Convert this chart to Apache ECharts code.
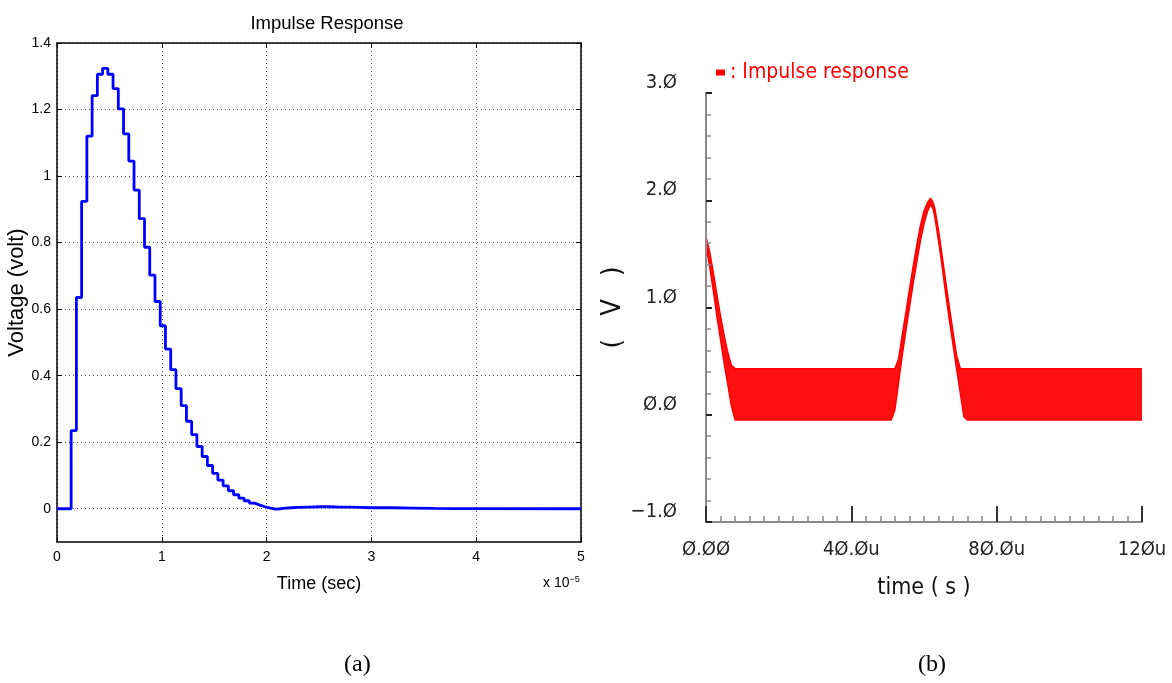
<!DOCTYPE html>
<html>
<head>
<meta charset="utf-8">
<title>Impulse Response</title>
<script src="https://cdn.jsdelivr.net/npm/echarts@6/dist/echarts.min.js"></script>
<style>
  html, body { margin: 0; padding: 0; background: #fff; }
  #main { width: 1172px; height: 683px; }
</style>
</head>
<body>
<div id="main"></div>
<script>
// (a) stairs response, time in units of 1e-5 s
var timeA = [0, 0.135, 0.185, 0.235, 0.285, 0.335, 0.385, 0.435, 0.485, 0.535, 0.585,
  0.635, 0.685, 0.735, 0.785, 0.835, 0.885, 0.935, 0.985, 1.035, 1.085,
  1.135, 1.185, 1.235, 1.285, 1.335, 1.385, 1.435, 1.485, 1.535, 1.585,
  1.635, 1.685, 1.735, 1.785, 1.835, 1.885, 1.935, 1.985, 2.035, 2.085,
  2.135, 2.185, 2.235, 2.3, 2.4, 2.5, 2.6, 2.7, 2.8, 2.9,
  3.0, 3.2, 3.4, 3.6, 3.8, 5.0];
var voltA = [0, 0.235, 0.635, 0.924, 1.12, 1.242, 1.306, 1.324, 1.306, 1.263, 1.202,
  1.127, 1.045, 0.958, 0.872, 0.786, 0.702, 0.623, 0.55, 0.48, 0.418,
  0.361, 0.31, 0.263, 0.223, 0.187, 0.157, 0.13, 0.106, 0.086, 0.069,
  0.054, 0.042, 0.032, 0.024, 0.017, 0.011, 0.006, 0.002, -0.001, 0.0,
  0.002, 0.003, 0.004, 0.005, 0.006, 0.006, 0.005, 0.005, 0.004, 0.003,
  0.003, 0.002, 0.001, 0.0005, 0, 0];
var xTicksA = [0, 1, 2, 3, 4, 5];
var yTicksA = [0, 0.2, 0.4, 0.6, 0.8, 1, 1.2, 1.4];

// (b) simulator output: lower / upper edge of the ripple band, time in us
var timeB = [0, 1, 2, 3, 4, 5, 6, 7, 8, 9,
  51, 52, 53, 54, 55, 56, 57, 58, 59, 60, 61, 61.8, 62.5, 63, 64, 65,
  66, 67, 68, 69, 70, 71, 72, 120];
var lowerB = [1.58, 1.38, 1.16, 0.92, 0.70, 0.48, 0.28, 0.08, -0.05, -0.05,
  -0.05, 0.05, 0.30, 0.55, 0.78, 1.00, 1.22, 1.42, 1.62, 1.78, 1.90, 1.96, 1.92, 1.84, 1.62, 1.38,
  1.12, 0.88, 0.65, 0.42, 0.20, -0.02, -0.05, -0.05];
var upperB = [1.66, 1.52, 1.33, 1.12, 0.92, 0.74, 0.58, 0.46, 0.43, 0.43,
  0.43, 0.43, 0.52, 0.74, 0.95, 1.17, 1.38, 1.58, 1.76, 1.90, 1.98, 2.02, 1.98, 1.92, 1.72, 1.48,
  1.24, 1.00, 0.77, 0.55, 0.43, 0.43, 0.43, 0.43];
var xTickValsB = [0, 40, 80, 120];
var xTickTextB = ['Ø.ØØ', '4Ø.Øu', '8Ø.Øu', '12Øu'];
var yTickValsB = [-1, 0, 1, 2, 3];
var yTickTextB = ['−1.Ø', 'Ø.Ø', '1.Ø', '2.Ø', '3.Ø'];

var narrow = "'Liberation Sans Narrow', 'DejaVu Sans Condensed', 'Liberation Sans', sans-serif";
var sans = "'Liberation Sans', Arial, sans-serif";
var serif = '"Liberation Serif", "Times New Roman", serif';

var stairData = timeA.map(function (t, i) { return [t, voltA[i]]; });
var upData = timeB.map(function (t, i) { return [t, upperB[i]]; });
var lowData = timeB.map(function (t, i) { return [t, lowerB[i]]; });

var dotted = { color: '#555', width: 1, type: [1, 3] };

var myChart = echarts.init(document.getElementById('main'), null, { renderer: 'canvas' });
myChart.setOption({
  animation: false,
  backgroundColor: '#fff',
  title: {
    text: 'Impulse Response',
    left: 322,
    top: 9,
    textAlign: 'center',
    textStyle: { fontFamily: sans, fontSize: 18.5, fontWeight: 'normal', color: '#000' }
  },
  legend: {
    data: ['Impulse response'],
    left: 711,
    top: 57,
    icon: 'rect',
    itemWidth: 9,
    itemHeight: 6,
    formatter: function (name) { return ': ' + name; },
    textStyle: { fontFamily: narrow, fontSize: 21, color: '#ff0000' }
  },
  grid: [
    { left: 57, top: 43, width: 524, height: 499 },
    { left: 706, top: 93, width: 436, height: 429 }
  ],
  xAxis: [
    {
      gridIndex: 0, type: 'value', min: 0, max: 5,
      name: 'Time (sec)', nameLocation: 'middle', nameGap: 33,
      nameTextStyle: { fontFamily: sans, fontSize: 18, color: '#000' },
      axisLine: { onZero: false, lineStyle: { color: '#000', width: 1.5 } },
      axisTick: { inside: true, length: 5, lineStyle: { color: '#000' }, customValues: xTicksA },
      axisLabel: { customValues: xTicksA, margin: 8, fontFamily: sans, fontSize: 14, color: '#000' },
      splitLine: { show: true, lineStyle: dotted }
    },
    {
      gridIndex: 0, type: 'value', min: 0, max: 5, position: 'top',
      axisLine: { onZero: false, lineStyle: { color: '#000', width: 1.5 } },
      axisTick: { inside: true, length: 5, lineStyle: { color: '#000' }, customValues: xTicksA },
      axisLabel: { show: false },
      splitLine: { show: false }
    },
    {
      gridIndex: 1, type: 'value', min: 0, max: 120, interval: 40, z: 5,
      name: 'time ( s )', nameLocation: 'middle', nameGap: 55,
      nameTextStyle: { fontFamily: narrow, fontSize: 23, color: '#111' },
      axisLine: { onZero: false, lineStyle: { color: '#8a8a8a', width: 2 } },
      axisTick: { inside: true, length: 16, lineStyle: { color: '#333', width: 2 } },
      minorTick: { show: true, splitNumber: 10, length: 6, lineStyle: { color: '#8a8a8a', width: 1.5 } },
      axisLabel: {
        margin: 18, fontFamily: narrow, fontSize: 20, color: '#222',
        formatter: function (v) {
          var i = xTickValsB.indexOf(v);
          return i >= 0 ? xTickTextB[i] : '';
        }
      },
      splitLine: { show: false }
    }
  ],
  yAxis: [
    {
      gridIndex: 0, type: 'value', min: -0.1, max: 1.4,
      name: 'Voltage (volt)', nameLocation: 'middle', nameGap: 27,
      nameTextStyle: { fontFamily: sans, fontSize: 22, color: '#000' },
      axisLine: { onZero: false, lineStyle: { color: '#000', width: 1.5 } },
      axisTick: { inside: true, length: 5, lineStyle: { color: '#000' }, customValues: yTicksA },
      axisLabel: { customValues: yTicksA, margin: 6, fontFamily: sans, fontSize: 14, color: '#000' },
      splitLine: { show: true, lineStyle: dotted }
    },
    {
      gridIndex: 0, type: 'value', min: -0.1, max: 1.4, position: 'right',
      axisLine: { show: true, onZero: false, lineStyle: { color: '#000', width: 1.5 } },
      axisTick: { show: true, inside: true, length: 5, lineStyle: { color: '#000' }, customValues: yTicksA },
      axisLabel: { show: false },
      splitLine: { show: false }
    },
    {
      gridIndex: 1, type: 'value', min: -1, max: 3, interval: 1, z: 5,
      name: '(   V   )', nameLocation: 'middle', nameGap: 62,
      nameTextStyle: { fontFamily: narrow, fontSize: 27, color: '#111' },
      axisLine: { show: true, onZero: false, lineStyle: { color: '#8a8a8a', width: 2 } },
      axisTick: { show: true, inside: true, length: 6, lineStyle: { color: '#222', width: 2 } },
      minorTick: { show: true, splitNumber: 5, length: 5, lineStyle: { color: '#8a8a8a', width: 1.5 } },
      axisLabel: {
        margin: 29, fontFamily: narrow, fontSize: 20, color: '#222', verticalAlign: 'bottom',
        formatter: function (v) {
          var i = yTickValsB.indexOf(v);
          return i >= 0 ? yTickTextB[i] : '';
        }
      },
      splitLine: { show: false }
    }
  ],
  series: [
    {
      name: 'stairs',
      type: 'line',
      xAxisIndex: 0, yAxisIndex: 0,
      step: 'end',
      showSymbol: false,
      data: stairData,
      lineStyle: { color: '#0000ff', width: 2.8 },
      itemStyle: { color: '#0000ff' }
    },
    {
      // upper edge, red fill down to the bottom of the axis
      name: 'Impulse response',
      type: 'line',
      xAxisIndex: 2, yAxisIndex: 2,
      z: 2,
      showSymbol: false,
      data: upData,
      lineStyle: { color: '#ff0000', width: 1.5 },
      itemStyle: { color: '#ff0000' },
      areaStyle: { color: '#ff1010', opacity: 1, origin: 'start' }
    },
    {
      // lower edge, white fill below it clears the red
      name: 'band low',
      type: 'line',
      xAxisIndex: 2, yAxisIndex: 2,
      z: 3,
      showSymbol: false,
      data: lowData,
      lineStyle: { color: '#ff0000', width: 1.5 },
      itemStyle: { color: '#ff0000' },
      areaStyle: { color: '#ffffff', opacity: 1, origin: 'start' }
    }
  ],
  graphic: [
    {
      type: 'text', left: 543, top: 575,
      style: {
        text: 'x 10{s|−5}',
        font: '14px ' + sans,
        fill: '#000',
        rich: { s: { fontSize: 9, fontFamily: sans, verticalAlign: 'top', padding: [0, 0, 8, 0] } }
      }
    },
    {
      type: 'text', left: 344, top: 653,
      style: { text: '(a)', font: '24px ' + serif, fill: '#000' }
    },
    {
      type: 'text', left: 918, top: 653,
      style: { text: '(b)', font: '24px ' + serif, fill: '#000' }
    }
  ]
});
</script>
</body>
</html>
